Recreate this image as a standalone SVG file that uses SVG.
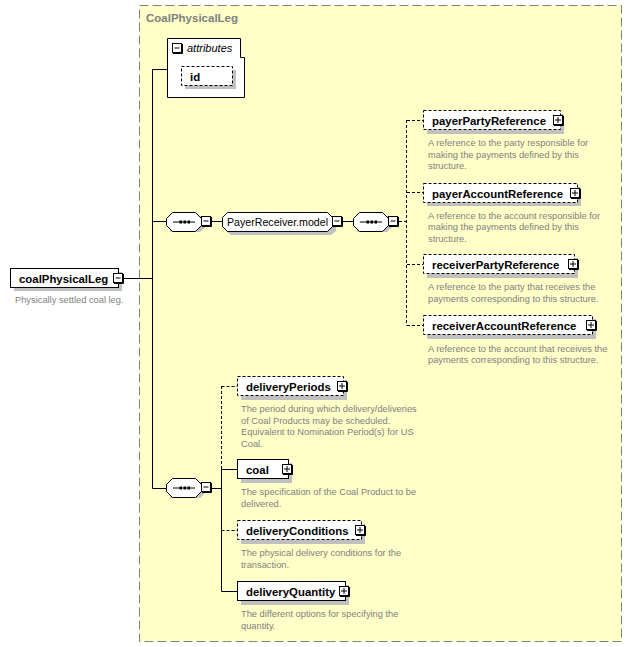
<svg xmlns="http://www.w3.org/2000/svg" xmlns:xlink="http://www.w3.org/1999/xlink" width="632" height="647" viewBox="0 0 632 647">
<style>
.lbl{font-family:"Liberation Sans",Arial,sans-serif;font-size:11.4px;font-weight:bold;fill:#000}
.reg{font-family:"Liberation Sans",Arial,sans-serif;font-size:10.6px;fill:#000}
.ital{font-family:"Liberation Sans",Arial,sans-serif;font-size:11px;font-style:italic;fill:#000}
.desc{font-family:"Liberation Sans",Arial,sans-serif;font-size:9.3px;fill:#808080}
.title{font-family:"Liberation Sans",Arial,sans-serif;font-size:11.5px;font-weight:bold;fill:#808080}
.box{fill:#fff;stroke:#000;stroke-width:1}
.dbox{fill:#fff;stroke:#000;stroke-width:1;stroke-dasharray:3,2}
.sh{fill:#c0c0c0}
.ln{stroke:#000;stroke-width:1;fill:none}
.dln{stroke:#000;stroke-width:1;fill:none;stroke-dasharray:3,2}
</style>
<defs>
<g id="minus">
<rect x="0.5" y="0.5" width="9" height="9" fill="#fff" stroke="#000"/>
<path d="M10.5,1 V10.5 H1" fill="none" stroke="#000"/>
<path d="M2.5,5 H7.5" stroke="#000"/>
</g>
<g id="plus">
<rect x="0.5" y="0.5" width="9" height="9" fill="#fff" stroke="#000"/>
<path d="M10.5,1 V10.5 H1" fill="none" stroke="#000"/>
<path d="M2,5 H8 M5,2 V8" stroke="#000"/>
</g>
<g id="seq">
<path d="M4,4 H39 V15 L34,20 H4 Z" class="sh"/>
<path d="M6.5,0.5 H29.5 L35.5,6.5 V13.5 L29.5,19.5 H6.5 L0.5,13.5 V6.5 Z" fill="#fff" stroke="#000"/>
<path d="M7,10 H29" stroke="#000"/>
<rect x="13.5" y="8.5" width="2.5" height="3" fill="#000"/>
<rect x="17.5" y="8.5" width="2.5" height="3" fill="#000"/>
<rect x="21.5" y="8.5" width="2.5" height="3" fill="#000"/>
</g>
</defs>

<g id="container">
<rect x="139.5" y="5.5" width="482" height="636" fill="#ffffc8" stroke="#808080" stroke-dasharray="9,4"/>
<text class="title" x="146" y="22">CoalPhysicalLeg</text>
</g>

<g id="connectors">
<path class="ln" d="M124,278.5 H152.5 M152.5,69 V488.5 M152.5,69.5 H167 M152.5,221.5 H166 M152.5,488.5 H166"/>
<path class="ln" d="M212,221.5 H222 M343,221.5 H353"/>
<path class="dln" d="M399,221.5 H407 M406.5,120 V325.5 M407,120.5 H423 M407,192.5 H423 M407,264.5 H423 M407,325.5 H423"/>
<path class="ln" d="M212,488.5 H221.5"/>
<path class="dln" d="M221.5,386 V469 M221.5,386.5 H237 M221.5,530.5 H237"/>
<path class="ln" d="M221.5,469 V591.5 M221.5,469.5 H237 M221.5,591.5 H237"/>
</g>

<g id="coalPhysicalLeg">
<rect class="sh" x="14" y="272" width="108" height="19"/>
<rect class="box" x="10.5" y="268.5" width="108" height="19"/>
<text class="lbl" x="19" y="282.5">coalPhysicalLeg</text>
<use xlink:href="#minus" x="113" y="273"/>
<text class="desc" x="15" y="303">Physically settled coal leg.</text>
</g>

<g id="attributes">
<path d="M167.5,38.5 H240.5 V57.5 H244.5 V97.5 H167.5 Z" fill="#fff" stroke="#000"/>
<use xlink:href="#minus" x="172" y="43"/>
<text class="ital" x="187" y="52">attributes</text>
<g id="attr-id">
<rect class="sh" x="185" y="70" width="51" height="19"/>
<rect class="dbox" x="181.5" y="66.5" width="51" height="19"/>
<text class="lbl" x="190" y="80.5">id</text>
</g>
</g>

<g id="seq1">
<use xlink:href="#seq" x="166" y="212"/>
<use xlink:href="#minus" x="201" y="216"/>
</g>

<g id="PayerReceiver.model">
<path class="sh" d="M226,216 H336 V231 L331,235 H231 L226,231 Z"/>
<path d="M227.5,212.5 H327.5 L332.5,217.5 V226.5 L327.5,231.5 H227.5 L222.5,226.5 V217.5 Z" fill="#fff" stroke="#000"/>
<text class="reg" x="227" y="226" textLength="101" lengthAdjust="spacingAndGlyphs">PayerReceiver.model</text>
<use xlink:href="#minus" x="332" y="216"/>
</g>

<g id="seq2">
<use xlink:href="#seq" x="353" y="212"/>
<use xlink:href="#minus" x="388" y="216"/>
</g>

<g id="payerPartyReference">
<rect class="sh" x="427" y="114" width="137" height="20"/>
<rect class="dbox" x="423.5" y="110.5" width="137" height="19"/>
<text class="lbl" x="432" y="124.5">payerPartyReference</text>
<use xlink:href="#plus" x="553" y="115"/>
<text class="desc" x="428" y="146">A reference to the party responsible for</text>
<text class="desc" x="428" y="157.5">making the payments defined by this</text>
<text class="desc" x="428" y="169">structure.</text>
</g>

<g id="payerAccountReference">
<rect class="sh" x="427" y="187" width="154" height="19"/>
<rect class="dbox" x="423.5" y="183.5" width="154" height="19"/>
<text class="lbl" x="432" y="197.5">payerAccountReference</text>
<use xlink:href="#plus" x="570" y="188"/>
<text class="desc" x="428" y="218.5">A reference to the account responsible for</text>
<text class="desc" x="428" y="230">making the payments defined by this</text>
<text class="desc" x="428" y="241.5">structure.</text>
</g>

<g id="receiverPartyReference">
<rect class="sh" x="427" y="258" width="151" height="20"/>
<rect class="dbox" x="423.5" y="254.5" width="151" height="19"/>
<text class="lbl" x="432" y="268.5">receiverPartyReference</text>
<use xlink:href="#plus" x="568" y="259"/>
<text class="desc" x="428" y="290">A reference to the party that receives the</text>
<text class="desc" x="428" y="301.5">payments corresponding to this structure.</text>
</g>

<g id="receiverAccountReference">
<rect class="sh" x="427" y="319" width="169" height="20"/>
<rect class="dbox" x="423.5" y="315.5" width="169" height="19"/>
<text class="lbl" x="432" y="329.5">receiverAccountReference</text>
<use xlink:href="#plus" x="586" y="320"/>
<text class="desc" x="428" y="351.5">A reference to the account that receives the</text>
<text class="desc" x="428" y="363">payments corresponding to this structure.</text>
</g>

<g id="seq3">
<use xlink:href="#seq" x="166" y="478"/>
<use xlink:href="#minus" x="201" y="482"/>
</g>

<g id="deliveryPeriods">
<rect class="sh" x="241" y="380" width="106" height="20"/>
<rect class="dbox" x="237.5" y="376.5" width="106" height="19"/>
<text class="lbl" x="246" y="390.5">deliveryPeriods</text>
<use xlink:href="#plus" x="337" y="381"/>
<text class="desc" x="241" y="412">The period during which delivery/deliveries</text>
<text class="desc" x="241" y="423.5">of Coal Products may be scheduled.</text>
<text class="desc" x="241" y="435">Equivalent to Nomination Period(s) for US</text>
<text class="desc" x="241" y="446.5">Coal.</text>
</g>

<g id="coal">
<rect class="sh" x="241" y="463" width="51" height="20"/>
<rect class="box" x="237.5" y="459.5" width="51" height="19"/>
<text class="lbl" x="246" y="473.5">coal</text>
<use xlink:href="#plus" x="282" y="464"/>
<text class="desc" x="241" y="495">The specification of the Coal Product to be</text>
<text class="desc" x="241" y="506.5">delivered.</text>
</g>

<g id="deliveryConditions">
<rect class="sh" x="241" y="524" width="124" height="20"/>
<rect class="dbox" x="237.5" y="520.5" width="124" height="19"/>
<text class="lbl" x="246" y="534.5">deliveryConditions</text>
<use xlink:href="#plus" x="355" y="525"/>
<text class="desc" x="241" y="556">The physical delivery conditions for the</text>
<text class="desc" x="241" y="567.5">transaction.</text>
</g>

<g id="deliveryQuantity">
<rect class="sh" x="241" y="585" width="108" height="20"/>
<rect class="box" x="237.5" y="581.5" width="108" height="19"/>
<text class="lbl" x="246" y="595.5">deliveryQuantity</text>
<use xlink:href="#plus" x="339" y="586"/>
<text class="desc" x="241" y="617">The different options for specifying the</text>
<text class="desc" x="241" y="628.5">quantity.</text>
</g>
</svg>
